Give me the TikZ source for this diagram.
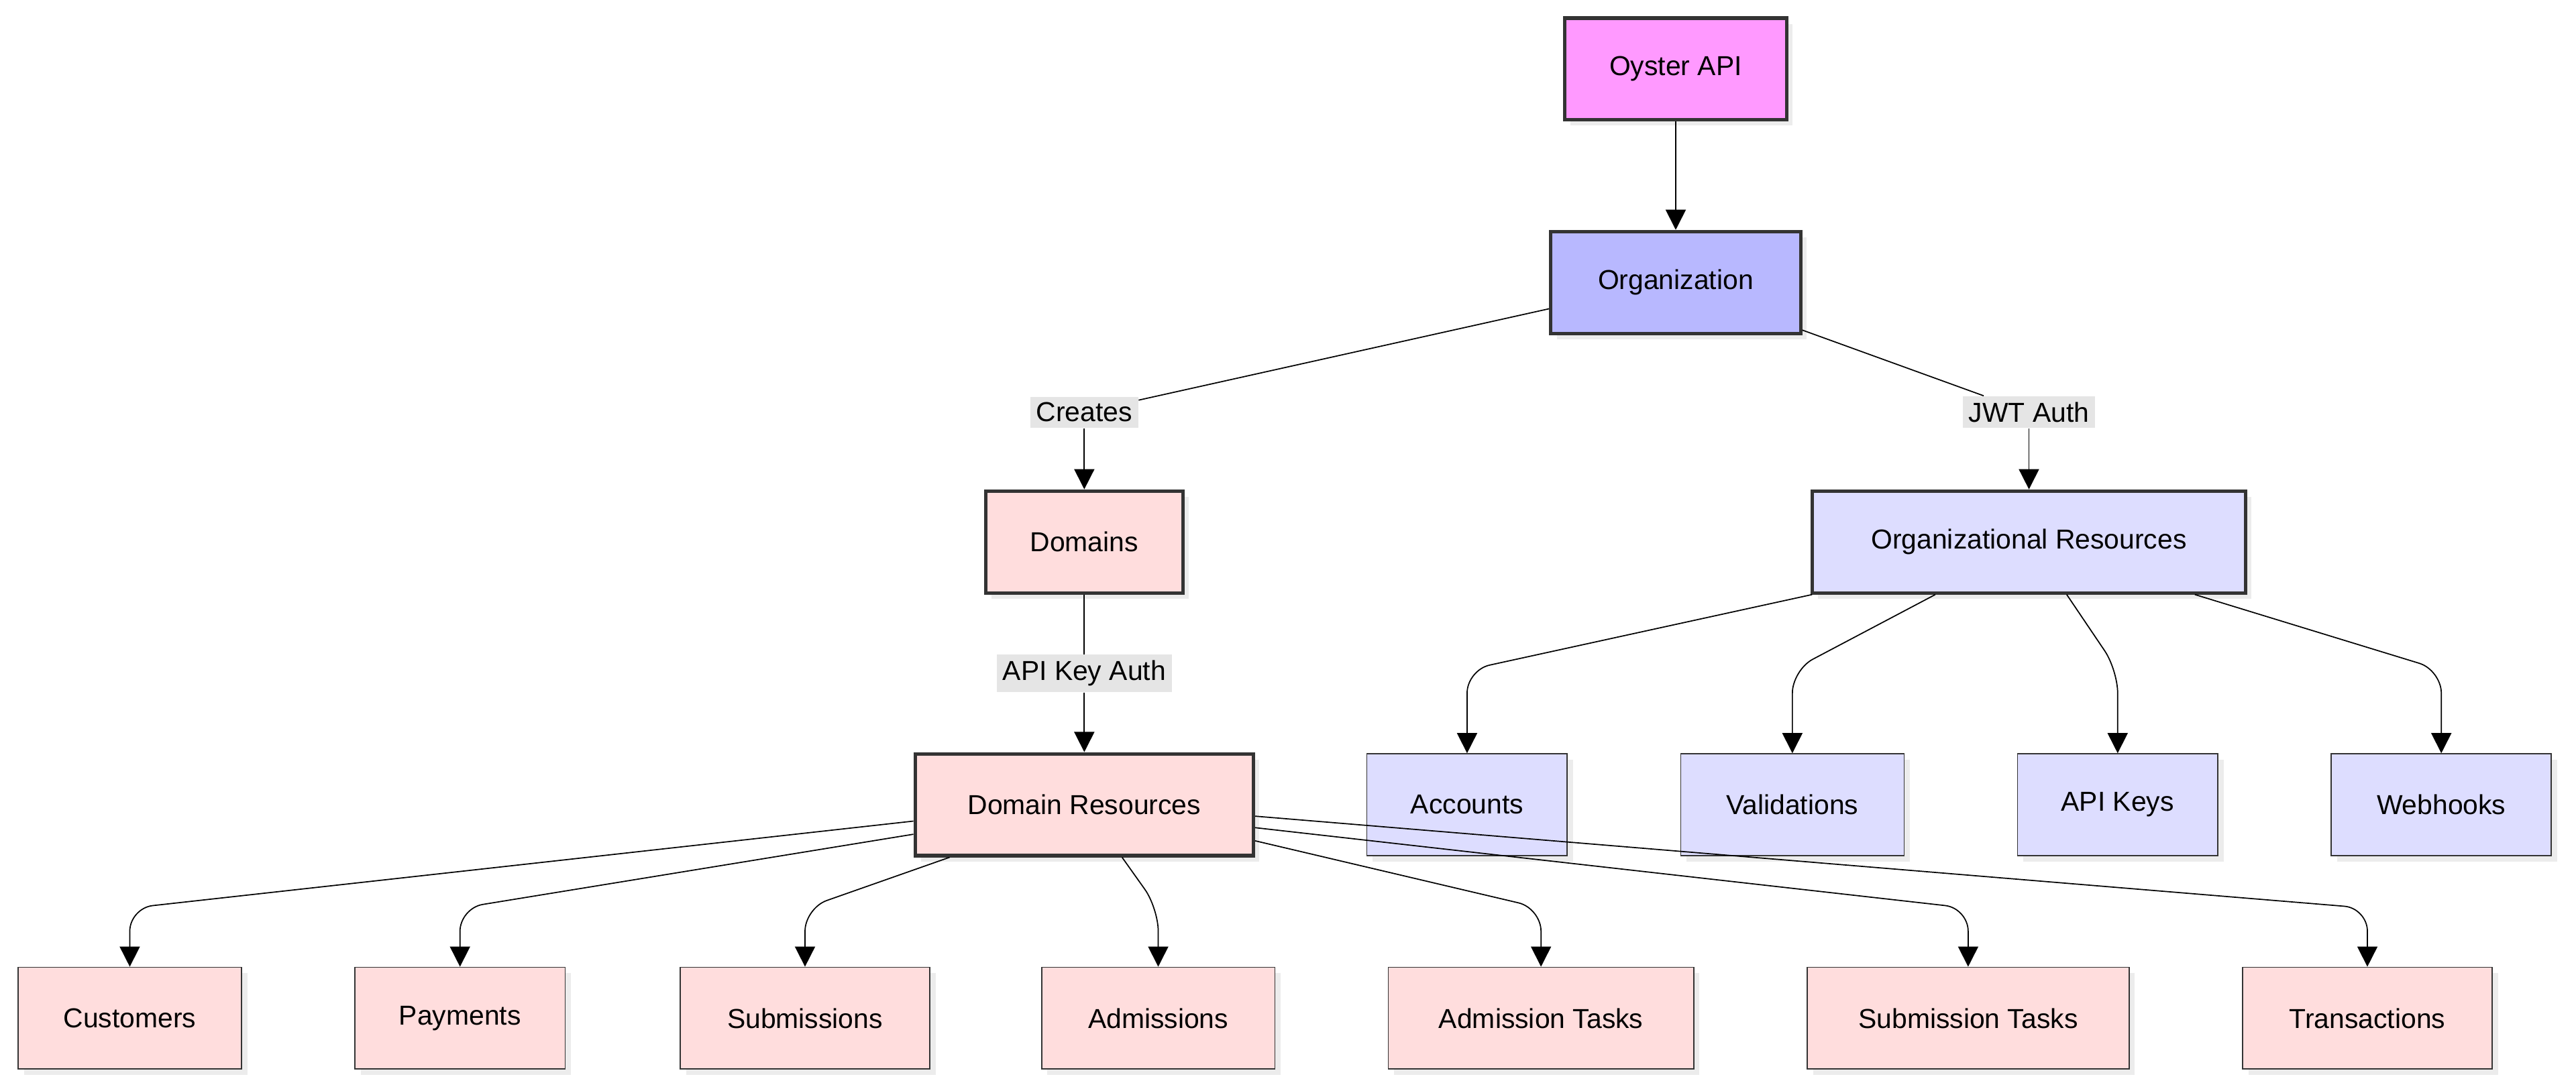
\documentclass[tikz,border=0pt]{standalone}
\usepackage{fontspec}
\setmainfont{Liberation Sans}
\usetikzlibrary{positioning,arrows.meta,shadows}
\definecolor{apipink}{HTML}{FF99FF}
\definecolor{orgblue}{HTML}{B8B8FF}
\definecolor{resblue}{HTML}{DDDDFF}
\definecolor{dompink}{HTML}{FFDDDD}
\tikzset{>={Triangle[length=7pt,width=7pt]}, % filled heads
box/.style={draw=black!80, minimum height=1.24cm, font=\fontsize{9.5}{11}\selectfont, drop shadow={opacity=0.15,shadow xshift=2pt,shadow yshift=-2pt}},
main/.style={box, very thick},
lbl/.style={fill=black!10, inner sep=2pt, font=\fontsize{9.5}{11}\selectfont},
link/.style={->, thin, rounded corners=8pt},
}
\begin{document}
\begin{tikzpicture}[x=0.02cm,y=-0.02cm]
\useasboundingbox (0,0) rectangle (1568,663);
\node[main, fill=apipink, minimum width=2.7cm] (api) at (1020,42) {Oyster API};
\node[main, fill=orgblue, minimum width=3.04cm] (org) at (1020,172) {Organization};
\node[main, fill=dompink, minimum width=2.4cm] (dom) at (660,330) {Domains};
\node[main, fill=resblue, minimum width=5.28cm] (ores) at (1235,330) {Organizational Resources};
\node[main, fill=dompink, minimum width=4.12cm] (dres) at (660,490) {Domain Resources};
% organizational resources
\node[box, fill=resblue, minimum width=2.44cm] (acc) at (893,490) {Accounts};
\node[box, fill=resblue, minimum width=2.72cm] (val) at (1091,490) {Validations};
\node[box, fill=resblue, minimum width=2.44cm] (keys) at (1289,490) {API Keys};
\node[box, fill=resblue, minimum width=2.68cm] (hooks) at (1486,490) {Webhooks};
% domain resources
\node[box, fill=dompink, minimum width=2.72cm] (cust) at (79,620) {Customers};
\node[box, fill=dompink, minimum width=2.56cm] (pay) at (280,620) {Payments};
\node[box, fill=dompink, minimum width=3.04cm] (sub) at (490,620) {Submissions};
\node[box, fill=dompink, minimum width=2.84cm] (adm) at (705,620) {Admissions};
\node[box, fill=dompink, minimum width=3.72cm] (admt) at (938,620) {Admission Tasks};
\node[box, fill=dompink, minimum width=3.92cm] (subt) at (1198,620) {Submission Tasks};
\node[box, fill=dompink, minimum width=3.04cm] (tra) at (1441,620) {Transactions};
% labels
\node[lbl] (creates) at (660,251) {Creates};
\node[lbl] (jwt) at (1235,251) {JWT Auth};
\node[lbl] (apikey) at (660,410) {API Key Auth};
\draw[->] (api) -- (org);
\draw (org.west |- 0,188) -- (creates);
\draw[->] (creates) -- (dom);
\draw (org.east |- 0,201) -- (jwt);
\draw[->] (jwt) -- (ores);
\draw (dom) -- (apikey);
\draw[->] (apikey) -- (dres);
% fan out
\draw[link] (ores.south west -| 1103,0) -- (acc.north |- 0,408) -- (acc.north);
\draw[link] (ores.south west -| 1178,0) -- (val.north |- 0,408) -- (val.north);
\draw[link] (ores.south west -| 1258,0) -- (keys.north |- 0,408) -- (keys.north);
\draw[link] (ores.south west -| 1336,0) -- (hooks.north |- 0,408) -- (hooks.north);
\draw[link] (dres.west |- 0,500) -- (cust.north |- 0,553) -- (cust.north);
\draw[link] (dres.west |- 0,508) -- (pay.north |- 0,553) -- (pay.north);
\draw[link] (dres.south west -| 578,0) -- (sub.north |- 0,553) -- (sub.north);
\draw[link] (dres.south west -| 683,0) -- (adm.north |- 0,553) -- (adm.north);
\draw[link] (dres.east |- 0,512) -- (admt.north |- 0,553) -- (admt.north);
\draw[link] (dres.east |- 0,504) -- (subt.north |- 0,553) -- (subt.north);
\draw[link] (dres.east |- 0,497) -- (tra.north |- 0,553) -- (tra.north);
\end{tikzpicture}
\end{document}
